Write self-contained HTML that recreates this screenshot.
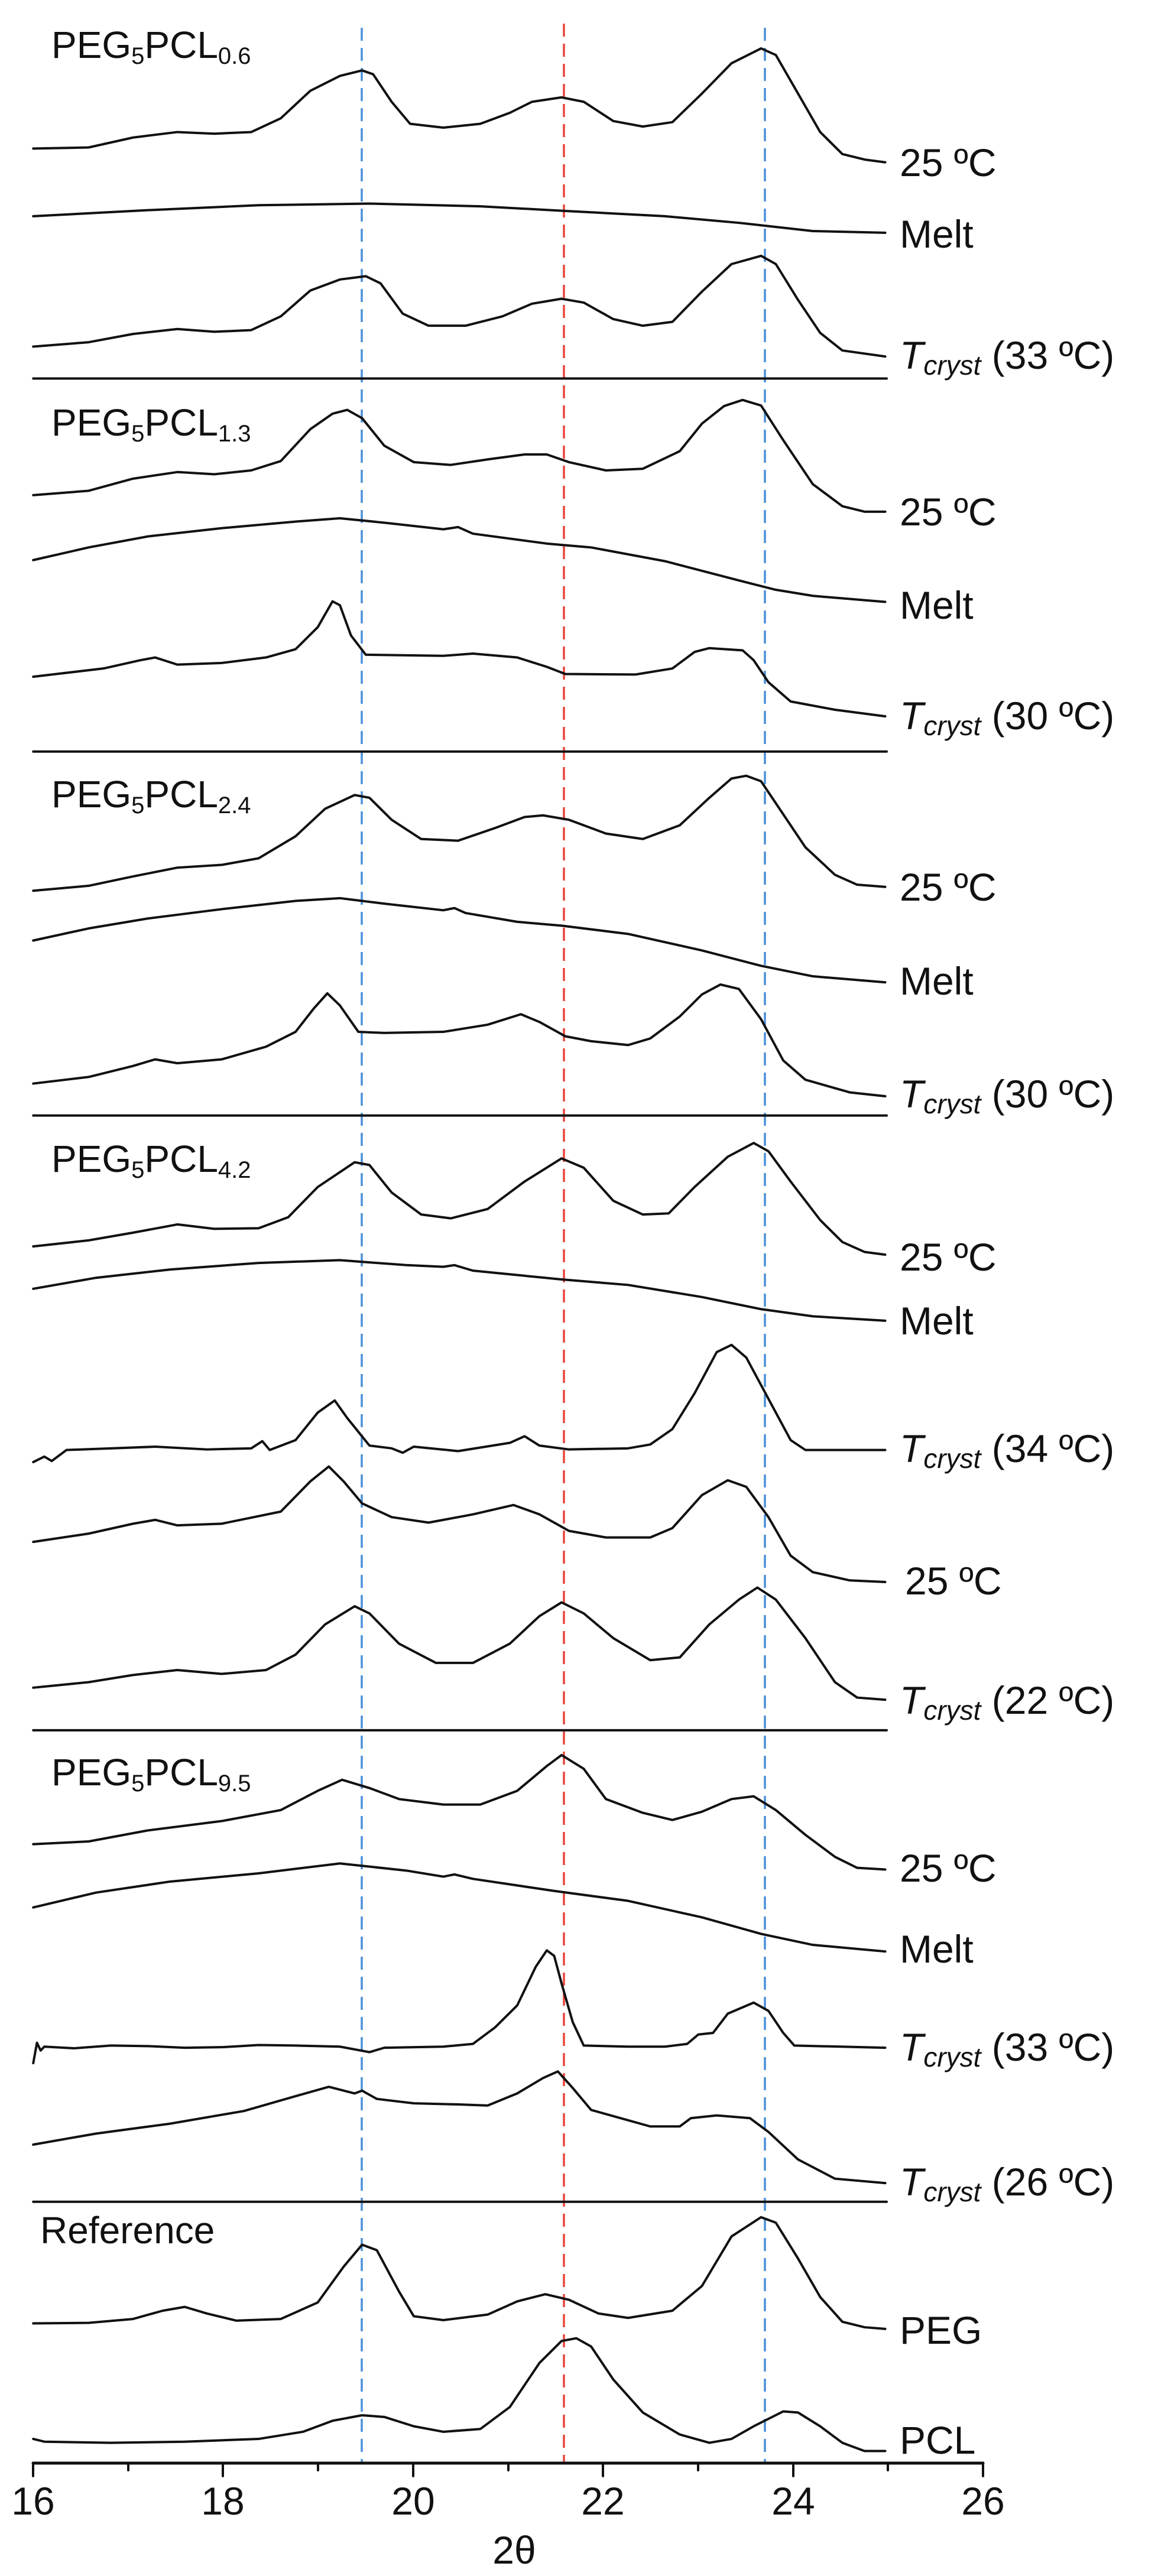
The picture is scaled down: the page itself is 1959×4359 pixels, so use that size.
<!DOCTYPE html>
<html><head><meta charset="utf-8"><style>
html,body{margin:0;padding:0;background:#fff;}
svg{display:block;}
text{font-family:"Liberation Sans",sans-serif;fill:#111;}
</style></head><body>
<svg width="1959" height="4359" viewBox="0 0 1959 4359" xmlns="http://www.w3.org/2000/svg">
<rect width="1959" height="4359" fill="#fff"/>
<!-- dashed reference lines -->
<g stroke-width="3.5" stroke-dasharray="22,12">
<line x1="612" y1="47" x2="612" y2="4168" stroke="#4a8fd8"/>
<line x1="954" y1="40" x2="954" y2="4168" stroke="#e8453c"/>
<line x1="1294" y1="47" x2="1294" y2="4168" stroke="#4a8fd8"/>
</g>
<g fill="none" stroke="#111" stroke-width="4" stroke-linejoin="round" stroke-linecap="round">
<!-- zoom6 group -->
<g transform="translate(0,0) scale(1.25,0.931)">
<polyline vector-effect="non-scaling-stroke" points="45,270 120,268 180,250 240,240 290,243 340,240 380,215 420,165 460,138 490,128 505,135 530,185 555,225 600,232 650,225 690,205 720,185 760,177 790,185 830,220 870,230 910,222 950,170 990,115 1030,88 1050,100 1080,170 1110,240 1140,280 1170,290 1198,295"/>
<polyline vector-effect="non-scaling-stroke" points="45,393 200,382 350,373 500,370 650,375 760,383 900,393 1000,405 1100,420 1198,423"/>
<polyline vector-effect="non-scaling-stroke" points="45,630 120,622 180,607 240,598 290,603 340,600 380,575 420,528 460,508 495,502 515,515 545,570 580,592 630,592 680,575 720,552 760,543 790,550 830,580 870,592 910,585 950,530 990,480 1030,465 1050,480 1080,545 1110,605 1140,637 1198,648"/>
<line vector-effect="non-scaling-stroke" x1="45" y1="688" x2="1200" y2="688"/>
<polyline vector-effect="non-scaling-stroke" points="45,900 120,892 180,870 240,858 290,862 340,855 380,838 420,780 450,752 470,745 490,760 520,810 560,840 610,845 660,835 710,826 740,826 770,840 820,855 870,852 920,820 950,770 980,738 1005,727 1030,737 1060,800 1100,880 1140,920 1170,930 1198,930"/>
<polyline vector-effect="non-scaling-stroke" points="45,1018 120,995 200,975 300,960 400,948 460,942 520,950 600,962 620,958 640,970 740,988 800,995 900,1020 1000,1055 1050,1072 1100,1083 1198,1094"/>
<polyline vector-effect="non-scaling-stroke" points="45,1230 140,1215 190,1200 210,1195 240,1208 300,1205 360,1195 400,1180 430,1140 450,1093 460,1100 475,1155 495,1190 600,1192 640,1188 700,1195 740,1212 765,1225 860,1226 910,1215 940,1185 960,1178 1005,1182 1020,1200 1040,1240 1070,1275 1130,1290 1198,1302"/>
<line vector-effect="non-scaling-stroke" x1="45" y1="1366" x2="1200" y2="1366"/>
<polyline vector-effect="non-scaling-stroke" points="45,1619 120,1610 180,1593 240,1577 300,1572 350,1560 400,1520 440,1470 480,1445 500,1450 530,1490 570,1525 620,1528 670,1505 710,1485 735,1482 770,1490 820,1515 870,1525 920,1500 960,1450 990,1415 1010,1410 1030,1420 1060,1480 1090,1540 1130,1590 1160,1608 1198,1612"/>
</g>
<!-- zoom7 group -->
<g transform="translate(0,1450) scale(1.25,0.931)">
<polyline vector-effect="non-scaling-stroke" points="45,152 120,130 200,112 300,95 400,80 460,75 520,85 600,97 615,93 630,102 700,118 760,125 850,140 950,170 1030,198 1100,217 1198,228"/>
<polyline vector-effect="non-scaling-stroke" points="45,412 120,400 180,380 210,368 240,375 300,368 360,345 400,318 425,275 443,248 460,270 485,318 520,320 600,318 660,305 705,286 730,300 765,326 800,335 850,342 880,330 920,290 950,250 975,232 1000,240 1030,295 1060,370 1090,405 1150,428 1198,435"/>
<line vector-effect="non-scaling-stroke" x1="45" y1="470" x2="1200" y2="470"/>
<polyline vector-effect="non-scaling-stroke" points="45,708 120,697 180,683 240,668 290,676 350,675 390,655 430,600 480,555 500,560 530,610 570,650 610,657 660,640 710,590 760,548 790,565 830,625 870,650 905,648 940,600 985,545 1020,520 1040,535 1070,590 1110,660 1140,700 1170,718 1198,723"/>
<polyline vector-effect="non-scaling-stroke" points="45,785 130,765 230,750 350,738 460,733 550,742 600,745 615,742 640,752 760,768 850,778 950,800 1030,822 1100,835 1198,843"/>
<polyline vector-effect="non-scaling-stroke" points="45,1100 60,1090 70,1098 90,1078 150,1075 210,1072 280,1077 340,1075 355,1062 365,1078 400,1060 430,1010 453,988 470,1020 500,1070 530,1075 545,1083 560,1072 620,1080 690,1065 710,1053 730,1070 770,1077 850,1075 880,1068 910,1040 940,975 970,900 990,887 1010,910 1040,985 1070,1060 1090,1078 1198,1078"/>
<polyline vector-effect="non-scaling-stroke" points="45,1245 120,1230 180,1212 210,1205 240,1215 300,1212 380,1190 420,1135 445,1108 465,1135 490,1175 530,1200 580,1210 640,1195 695,1178 730,1195 770,1225 820,1237 880,1237 910,1220 950,1160 985,1133 1010,1145 1040,1200 1070,1270 1100,1300 1150,1315 1198,1318"/>
<polyline vector-effect="non-scaling-stroke" points="45,1510 120,1500 180,1487 240,1478 300,1485 360,1478 400,1450 440,1395 480,1362 500,1375 540,1430 590,1465 640,1465 690,1430 730,1380 760,1355 790,1375 830,1420 880,1460 920,1455 960,1395 1000,1350 1025,1328 1050,1350 1090,1420 1130,1500 1160,1528 1198,1532"/>
</g>
<!-- zoom8 group -->
<g transform="translate(0,2900) scale(1.25,0.931)">
<line vector-effect="non-scaling-stroke" x1="45" y1="30" x2="1200" y2="30"/>
<polyline vector-effect="non-scaling-stroke" points="45,237 120,232 200,212 300,195 380,175 430,140 463,120 500,135 540,155 600,165 650,165 700,140 740,95 760,75 790,100 820,155 870,180 910,193 950,178 990,155 1020,150 1050,175 1090,220 1130,260 1160,280 1198,283"/>
<polyline vector-effect="non-scaling-stroke" points="45,352 130,325 230,305 350,290 460,272 550,285 600,296 615,292 640,300 750,322 850,340 950,370 1030,400 1100,420 1198,432"/>
<polyline vector-effect="non-scaling-stroke" points="45,635 50,598 55,612 60,605 100,608 150,603 200,604 250,607 300,606 350,602 400,603 460,605 500,615 520,607 600,605 640,600 670,570 700,530 725,460 740,430 750,440 760,490 775,560 790,603 850,605 900,605 930,600 945,583 965,580 985,545 1020,525 1040,540 1060,580 1075,603 1198,607"/>
<polyline vector-effect="non-scaling-stroke" points="45,783 130,763 230,745 330,722 400,695 445,678 480,690 490,685 510,700 560,708 620,710 660,712 700,690 735,662 755,650 775,680 800,720 840,735 880,750 920,750 935,735 970,730 1015,735 1040,760 1080,810 1130,845 1198,853"/>
<line vector-effect="non-scaling-stroke" x1="45" y1="887" x2="1200" y2="887"/>
<polyline vector-effect="non-scaling-stroke" points="45,1108 120,1107 180,1100 220,1085 250,1078 280,1090 320,1103 380,1100 430,1070 465,1005 490,965 510,975 540,1050 560,1095 600,1102 660,1092 700,1068 738,1055 770,1065 810,1090 850,1098 910,1085 950,1040 990,950 1030,915 1050,925 1080,990 1110,1060 1140,1105 1170,1115 1198,1118"/>
<polyline vector-effect="non-scaling-stroke" points="45,1318 60,1323 150,1325 250,1323 350,1318 410,1305 450,1285 490,1275 520,1278 560,1295 600,1305 650,1300 690,1260 730,1180 760,1140 780,1135 800,1150 830,1210 870,1270 920,1310 960,1325 990,1318 1020,1295 1060,1268 1080,1270 1110,1295 1140,1325 1170,1340 1198,1340"/>
</g>
<!-- axis -->
<line x1="56" y1="4168" x2="1663" y2="4168" stroke-width="5"/>
<g stroke-width="4">
<line x1="56" y1="4168" x2="56" y2="4190"/><line x1="217" y1="4168" x2="217" y2="4180"/>
<line x1="377" y1="4168" x2="377" y2="4190"/><line x1="538" y1="4168" x2="538" y2="4180"/>
<line x1="699" y1="4168" x2="699" y2="4190"/><line x1="860" y1="4168" x2="860" y2="4180"/>
<line x1="1020" y1="4168" x2="1020" y2="4190"/><line x1="1181" y1="4168" x2="1181" y2="4180"/>
<line x1="1342" y1="4168" x2="1342" y2="4190"/><line x1="1502" y1="4168" x2="1502" y2="4180"/>
<line x1="1663" y1="4168" x2="1663" y2="4190"/>
</g>
</g>
<!-- tick labels -->
<g font-size="66" text-anchor="middle">
<text x="56" y="4255">16</text><text x="377" y="4255">18</text><text x="699" y="4255">20</text>
<text x="1020" y="4255">22</text><text x="1342" y="4255">24</text><text x="1663" y="4255">26</text>
<text x="870" y="4338">2θ</text>
</g>
<!-- panel labels -->
<g font-size="64">
<text x="87" y="98">PEG<tspan font-size="40" dy="10">5</tspan><tspan dy="-10">PCL</tspan><tspan font-size="40" dy="10">0.6</tspan></text>
<text x="87" y="737">PEG<tspan font-size="40" dy="10">5</tspan><tspan dy="-10">PCL</tspan><tspan font-size="40" dy="10">1.3</tspan></text>
<text x="87" y="1366">PEG<tspan font-size="40" dy="10">5</tspan><tspan dy="-10">PCL</tspan><tspan font-size="40" dy="10">2.4</tspan></text>
<text x="87" y="1983">PEG<tspan font-size="40" dy="10">5</tspan><tspan dy="-10">PCL</tspan><tspan font-size="40" dy="10">4.2</tspan></text>
<text x="87" y="3021">PEG<tspan font-size="40" dy="10">5</tspan><tspan dy="-10">PCL</tspan><tspan font-size="40" dy="10">9.5</tspan></text>
<text x="68" y="3796">Reference</text>
</g>
<!-- right labels -->
<g font-size="66">
<text x="1522" y="298">25 ºC</text>
<text x="1522" y="419">Melt</text>
<text x="1522" y="624"><tspan font-style="italic">T</tspan><tspan font-style="italic" font-size="46" dy="10">cryst</tspan><tspan dy="-10"> (33 ºC)</tspan></text>
<text x="1522" y="889">25 ºC</text>
<text x="1522" y="1047">Melt</text>
<text x="1522" y="1234"><tspan font-style="italic">T</tspan><tspan font-style="italic" font-size="46" dy="10">cryst</tspan><tspan dy="-10"> (30 ºC)</tspan></text>
<text x="1522" y="1524">25 ºC</text>
<text x="1522" y="1683">Melt</text>
<text x="1522" y="1874"><tspan font-style="italic">T</tspan><tspan font-style="italic" font-size="46" dy="10">cryst</tspan><tspan dy="-10"> (30 ºC)</tspan></text>
<text x="1522" y="2150">25 ºC</text>
<text x="1522" y="2258">Melt</text>
<text x="1522" y="2474"><tspan font-style="italic">T</tspan><tspan font-style="italic" font-size="46" dy="10">cryst</tspan><tspan dy="-10"> (34 ºC)</tspan></text>
<text x="1531" y="2698">25 ºC</text>
<text x="1522" y="2900"><tspan font-style="italic">T</tspan><tspan font-style="italic" font-size="46" dy="10">cryst</tspan><tspan dy="-10"> (22 ºC)</tspan></text>
<text x="1522" y="3184">25 ºC</text>
<text x="1522" y="3321">Melt</text>
<text x="1522" y="3487"><tspan font-style="italic">T</tspan><tspan font-style="italic" font-size="46" dy="10">cryst</tspan><tspan dy="-10"> (33 ºC)</tspan></text>
<text x="1522" y="3715"><tspan font-style="italic">T</tspan><tspan font-style="italic" font-size="46" dy="10">cryst</tspan><tspan dy="-10"> (26 ºC)</tspan></text>
<text x="1522" y="3966">PEG</text>
<text x="1522" y="4152">PCL</text>
</g>
</svg>
</body></html>
